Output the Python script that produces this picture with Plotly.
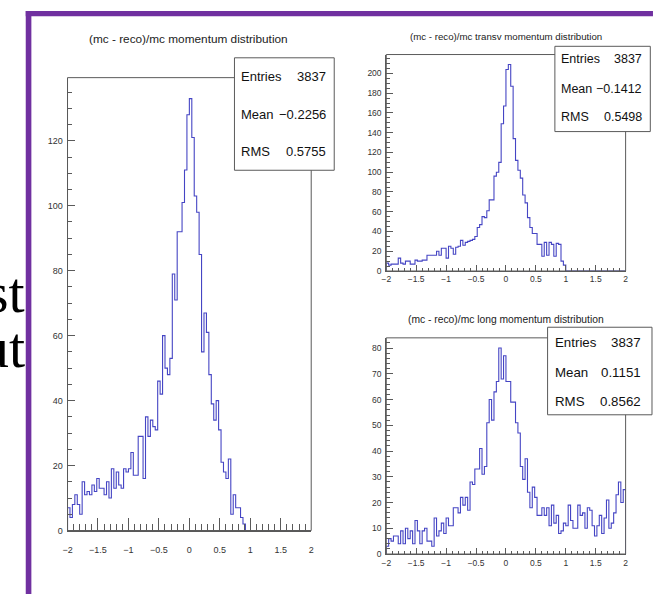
import numpy as np
import plotly.graph_objects as go

# ---- histogram contents (100 bins from -2 to 2) ----
bin_edges = np.linspace(-2.0, 2.0, 101)

p_counts = [7, 4, 8, 11, 8, 5, 15, 11, 12, 11,
            14, 12, 16, 13, 13, 11, 15, 10, 19, 13,
            18, 14, 13, 19, 18, 19, 24, 17, 17, 29,
            29, 16, 35, 29, 34, 32, 31, 46, 42, 60,
            50, 48, 53, 79, 71, 92, 92, 101, 111, 128,
            133, 121, 103, 98, 85, 55, 67, 61, 48, 39,
            34, 40, 31, 21, 18, 16, 22, 5, 11, 7,
            7, 4, 2, 0, 0, 0, 0, 0, 0, 0,
            0, 0, 0, 0, 0, 0, 0, 0, 0, 0,
            0, 0, 0, 0, 0, 0, 0, 0, 0, 0]

pt_counts = [8, 6, 7, 7, 7, 13, 8, 7, 10, 10,
             7, 7, 11, 10, 10, 11, 11, 16, 16, 16,
             16, 20, 16, 23, 23, 13, 25, 23, 17, 24,
             25, 31, 26, 29, 30, 31, 32, 35, 44, 47,
             55, 54, 61, 72, 72, 96, 100, 110, 149, 167,
             204, 209, 187, 134, 112, 102, 94, 77, 69, 54,
             44, 38, 38, 27, 27, 15, 29, 16, 29, 27,
             15, 28, 27, 10, 6, 0, 0, 0, 0, 0,
             0, 0, 0, 0, 0, 0, 0, 0, 0, 0,
             0, 0, 0, 0, 0, 0, 0, 0, 0, 0]

pl_counts = [3, 6, 5, 7, 7, 4, 9, 4, 10, 6,
             9, 4, 13, 9, 4, 9, 10, 5, 5, 3,
             14, 7, 9, 12, 8, 14, 11, 11, 18, 18,
             16, 22, 19, 22, 17, 28, 27, 33, 33, 41,
             31, 34, 51, 60, 52, 63, 67, 80, 68, 77,
             67, 67, 59, 59, 51, 47, 34, 29, 37, 24,
             18, 26, 22, 15, 15, 18, 15, 18, 11, 19,
             12, 15, 8, 9, 12, 11, 19, 13, 10, 10,
             19, 15, 16, 10, 18, 17, 11, 7, 11, 15,
             8, 14, 21, 10, 12, 16, 23, 28, 20, 25]

titles = ["(mc - reco)/mc momentum distribution",
          "(mc - reco)/mc transv momentum distribution",
          "(mc - reco)/mc long momentum distribution"]
stat_labels = ["Entries", "Mean", "RMS"]
stat_values = [["3837", "\u22120.2256", "0.5755"],
               ["3837", "\u22120.1412", "0.5498"],
               ["3837", "0.1151", "0.8562"]]

W, H = 654, 597
FONT = "Liberation Sans, Arial, Helvetica, sans-serif"
HIST_COLOR = "#4545c4"
FRAME_COLOR = "#5a5a5a"
LABEL_COLOR = "#333333"


def px(x):
    return x / W


def py(y):
    return 1 - y / H


def step_xy(counts):
    xs = [bin_edges[0]] + list(bin_edges[:-1]) + [bin_edges[-1], bin_edges[-1]]
    ys = [0] + list(counts) + [counts[-1], 0]
    return xs, ys


# pad geometry (pixels): frame left, right, top, bottom, y max, ticks
pads = [
    dict(l=63.3, r=310.0, t=78.3, b=535.0, ymax=139.45, ydt=20, ymin=5,
         xlen=12.7, xminlen=6.7, ylen=7, yminlen=4, fs=9, xstand=11,
         counts=p_counts,
         title_xy=(186, 39), title_fs=11.8,
         box=(232.3, 58.3, 333.3, 171.7), rows=(77, 115, 153),
         lab_x=237, val_x=327.5, stat_fs=13),
    dict(l=386.0, r=628.3, t=55.0, b=273.3, ymax=219.1, ydt=20, ymin=5,
         xlen=6, xminlen=3.5, ylen=7, yminlen=3.5, fs=8.5, xstand=0,
         counts=pt_counts,
         title_xy=(507, 37.3), title_fs=9.7,
         box=(556.7, 46.7, 653.3, 132.7), rows=(60, 89.3, 118.3),
         lab_x=560.7, val_x=646.5, stat_fs=12.5),
    dict(l=386.0, r=628.3, t=340.7, b=558.7, ymax=83.97, ydt=10, ymin=2,
         xlen=6, xminlen=3.5, ylen=7, yminlen=3.5, fs=8.5, xstand=1,
         counts=pl_counts,
         title_xy=(507, 322.3), title_fs=10.3,
         box=(549.3, 330.0, 655.0, 418.3), rows=(345.7, 375.7, 405),
         lab_x=555, val_x=645.5, stat_fs=13.3),
]

fig = go.Figure()
shapes = []
annotations = []

for i, p in enumerate(pads):
    sfx = "" if i == 0 else str(i + 1)
    xs, ys = step_xy(p["counts"])
    fig.add_trace(go.Scatter(x=xs, y=ys, mode="lines", line_shape="hv",
                             line=dict(color=HIST_COLOR, width=1.1),
                             xaxis="x" + sfx, yaxis="y" + sfx,
                             hoverinfo="skip", showlegend=False))

    fig.layout["xaxis" + sfx] = dict(
        domain=[px(p["l"]), px(p["r"])], range=[-2, 2], anchor="y" + sfx,
        tick0=-2, dtick=0.5, ticks="inside", ticklen=p["xlen"], tickwidth=1,
        tickcolor=FRAME_COLOR, showline=True, linecolor=FRAME_COLOR,
        linewidth=1, showgrid=False, zeroline=False,
        ticklabelstandoff=p["xstand"],
        tickfont=dict(family=FONT, size=p["fs"], color=LABEL_COLOR),
        minor=dict(dtick=0.1, tick0=-2, ticks="inside", ticklen=p["xminlen"],
                   tickwidth=1, tickcolor=FRAME_COLOR, showgrid=False),
        fixedrange=True)
    fig.layout["yaxis" + sfx] = dict(
        domain=[py(p["b"]), py(p["t"])], range=[0, p["ymax"]],
        anchor="x" + sfx, tick0=0, dtick=p["ydt"], ticks="inside",
        ticklen=p["ylen"], tickwidth=1, tickcolor=FRAME_COLOR, showline=True,
        linecolor=FRAME_COLOR, linewidth=1, showgrid=False, zeroline=False,
        ticklabelstandoff=2,
        tickfont=dict(family=FONT, size=p["fs"], color=LABEL_COLOR),
        minor=dict(dtick=p["ymin"], tick0=0, ticks="inside",
                   ticklen=p["yminlen"], tickwidth=1, tickcolor=FRAME_COLOR,
                   showgrid=False),
        fixedrange=True)

    # frame around the pad
    shapes.append(dict(type="rect", xref="paper", yref="paper",
                       x0=px(p["l"]), x1=px(p["r"]), y0=py(p["b"]), y1=py(p["t"]),
                       line=dict(color=FRAME_COLOR, width=1), layer="above"))
    # statistics box
    bx0, by0, bx1, by1 = p["box"]
    shapes.append(dict(type="rect", xref="paper", yref="paper",
                       x0=px(bx0), x1=px(bx1), y0=py(by1), y1=py(by0),
                       fillcolor="white", line=dict(color=FRAME_COLOR, width=1),
                       layer="above"))
    for row_y, lab, val in zip(p["rows"], stat_labels, stat_values[i]):
        annotations.append(dict(x=px(p["lab_x"]), y=py(row_y), xref="paper",
                                yref="paper", text=lab, showarrow=False,
                                xanchor="left", yanchor="middle",
                                font=dict(family=FONT, size=p["stat_fs"],
                                          color="#111111")))
        annotations.append(dict(x=px(p["val_x"]), y=py(row_y), xref="paper",
                                yref="paper", text=val, showarrow=False,
                                xanchor="right", yanchor="middle",
                                font=dict(family=FONT, size=p["stat_fs"],
                                          color="#111111")))
    tx, ty = p["title_xy"]
    annotations.append(dict(x=px(tx), y=py(ty), xref="paper", yref="paper",
                            text=titles[i], showarrow=False, xanchor="center",
                            yanchor="middle",
                            font=dict(family=FONT, size=p["title_fs"],
                                      color="#222222")))

# purple canvas border
PURPLE = "#7030a0"
shapes.append(dict(type="rect", xref="paper", yref="paper",
                   x0=px(21), x1=px(W + 2), y0=py(16.5), y1=py(11),
                   fillcolor=PURPLE, line=dict(width=0), layer="above"))
shapes.append(dict(type="rect", xref="paper", yref="paper",
                   x0=px(21), x1=px(26.7), y0=py(H + 2), y1=py(11),
                   fillcolor=PURPLE, line=dict(width=0), layer="above"))

# slide text peeking out on the left
for txt, ycen in [("st", 295), ("ut", 350)]:
    annotations.append(dict(x=px(22), y=py(ycen), xref="paper", yref="paper",
                            text=txt, showarrow=False, xanchor="right",
                            yanchor="middle",
                            font=dict(family="Liberation Serif, Times New Roman, serif",
                                      size=58, color="#000000")))

fig.update_layout(width=W, height=H, margin=dict(l=0, r=0, t=0, b=0),
                  paper_bgcolor="white", plot_bgcolor="rgba(0,0,0,0)",
                  shapes=shapes, annotations=annotations, showlegend=False)

fig.write_html("out.html")
